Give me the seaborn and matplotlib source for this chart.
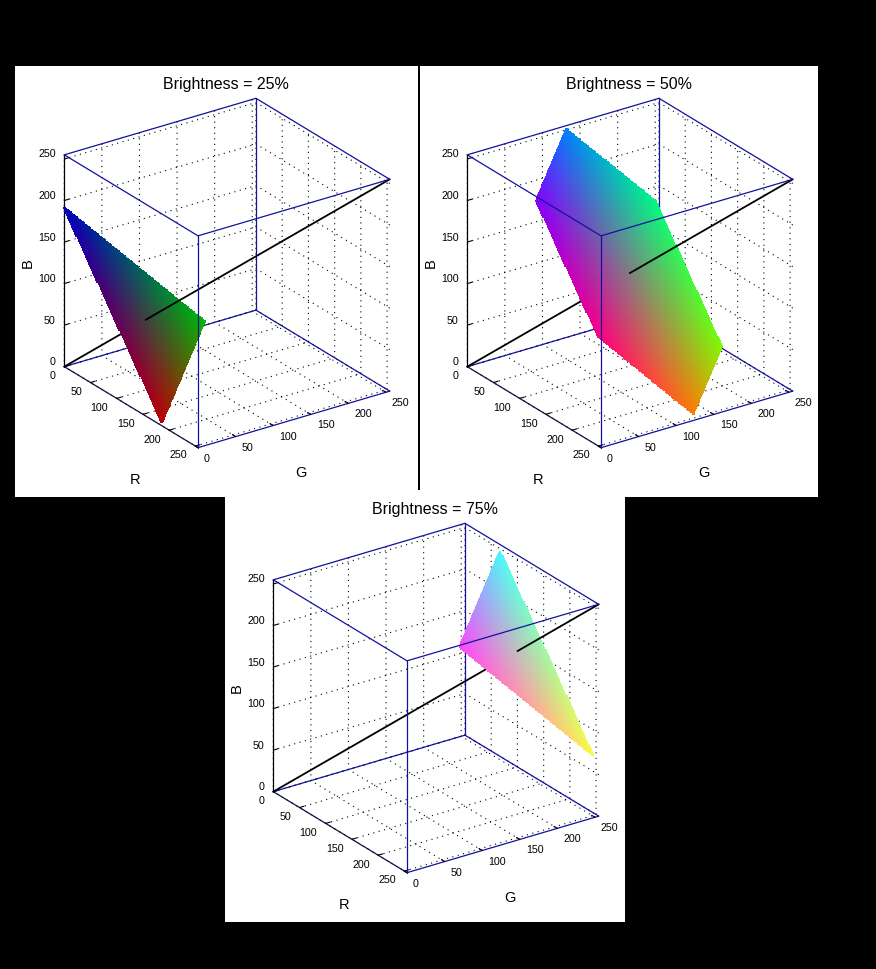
#!/usr/bin/env python3
# Slices through the RGB cube at three brightness levels
import numpy as np
import matplotlib
matplotlib.use("Agg")
import matplotlib.pyplot as plt
from matplotlib.patches import Rectangle
from matplotlib.ticker import NullFormatter
from mpl_toolkits.mplot3d import proj3d
import seaborn as sns

titles = ['Brightness = 25%', 'Brightness = 50%', 'Brightness = 75%']
# R+G+B of each slice, read from where it meets the cube edges
plane_sums = [191, 382, 574]
tick_values = [0, 50, 100, 150, 200, 250]
axis_max = 255
# the slices stop a little short of the cube corners
channel_max = 250
blue_min = 5
grid_step = 2

EDGE = '#12129c'
W, H = 876, 969
AX_SIZE = 393
# cube centre of each panel, in pixels from the top left
centres = [(227, 273), (630, 273), (436, 698)]

sns.set_theme(style='white', font='Liberation Sans', rc={
    'figure.facecolor': 'black',
    'axes.grid': True,
    'axes.labelcolor': 'black',
    'grid.color': 'black',
    'grid.linewidth': 0.8,
    'grid.linestyle': (0, (1, 4)),
    'text.color': 'black',
    'xtick.color': 'black',
    'ytick.color': 'black',
})

fig = plt.figure(figsize=(W / 100, H / 100), dpi=100)

# white backing panels and the divider
for x0, y0, x1, y1, col in [(15, 66, 818, 497, 'white'),
                            (225, 497, 625, 922, 'white'),
                            (418, 66, 420, 490, 'black')]:
    fig.add_artist(Rectangle((x0 / W, 1 - y1 / H), (x1 - x0) / W, (y1 - y0) / H,
                             transform=fig.transFigure, color=col, lw=0, zorder=-1))


def label_at(ax, point, text, dx, dy, **kw):
    # text offset in pixels from a projected 3D point
    px, py, _ = proj3d.proj_transform(*point, ax.get_proj())
    ax.annotate(text, xy=(px, py), xytext=(dx, -dy), textcoords='offset pixels',
                va='center', annotation_clip=False, **kw)


def draw_panel(title, total, centre):
    cx, cy = centre
    left = (cx - 0.5135 * AX_SIZE) / W
    bottom = (H - cy - 0.5135 * AX_SIZE) / H
    ax = fig.add_axes([left, bottom, AX_SIZE / W, AX_SIZE / H], projection='3d',
                      proj_type='ortho', computed_zorder=False)
    ax.set_facecolor('none')
    ax.view_init(elev=25, azim=-34.9)
    ax.set_box_aspect((1, 1, 1))

    # back edges of the box, below the slice
    m = axis_max
    for p, q in [((0, 0, m), (0, m, m)), ((0, m, m), (m, m, m)), ((0, m, 0), (0, m, m)),
                 ((0, 0, 0), (0, m, 0)), ((0, m, 0), (m, m, 0))]:
        ax.plot(*zip(p, q), color=EDGE, lw=0.9, zorder=1)

    # grey diagonal is hidden by the slice up to where it crosses
    mid = total / 3
    ax.plot([0, mid], [0, mid], [0, mid], color='black', lw=1.3, zorder=1.5)

    r, g = np.meshgrid(np.arange(0, channel_max + 1, grid_step),
                       np.arange(0, channel_max + 1, grid_step))
    b = total - r - g
    keep = (b >= blue_min) & (b <= channel_max)
    rgb = np.column_stack([r[keep], g[keep], b[keep]]) / m
    ax.scatter(r[keep], g[keep], b[keep], c=rgb, marker='s', s=4, linewidths=0,
               depthshade=False, zorder=2)

    ax.plot([mid, m], [mid, m], [mid, m], color='black', lw=1.3, zorder=3)
    # front edges, over the slice
    for p, q in [((0, 0, m), (m, 0, m)), ((m, 0, m), (m, m, m)), ((m, 0, 0), (m, 0, m))]:
        ax.plot(*zip(p, q), color=EDGE, lw=0.9, zorder=4)

    ax.set_xlim(0, m, view_margin=0)
    ax.set_ylim(0, m, view_margin=0)
    ax.set_zlim(0, m, view_margin=0)
    ax.set_xticks(tick_values)
    ax.set_yticks(tick_values)
    ax.set_zticks(tick_values)
    ax.zaxis.set_ticks_position('lower')

    for axis, line_col in [(ax.xaxis, '#101040'), (ax.yaxis, EDGE), (ax.zaxis, 'black')]:
        axis.set_pane_color((1, 1, 1, 0))
        axis.pane.set_edgecolor((1, 1, 1, 0))
        axis.line.set_color(line_col)
        axis.line.set_linewidth(0.9)
        # shorter, thinner ticks; no public setter for these in mplot3d
        axis._axinfo['tick'].update(inward_factor=0, outward_factor=0.3)
        axis._axinfo['tick']['linewidth'] = {True: 0.8, False: 0.8}
        # mplot3d cannot shift its tick labels sideways, so they are placed below
        axis.set_major_formatter(NullFormatter())

    for v in tick_values:
        label_at(ax, (v, 0, 0), str(v), -8.5, 9.3, ha='right', fontsize=7.7)
        label_at(ax, (m, v, 0), str(v), 6, 11, ha='left', fontsize=7.7)
        label_at(ax, (0, 0, v), str(v), -8.5, -4.5, ha='right', fontsize=7.7)

    label_at(ax, (m / 2, 0, 0), 'R', 4, 72.5, ha='center', fontsize=10.5)
    label_at(ax, (m, m / 2, 0), 'G', 7, 54, ha='center', fontsize=10.5)
    label_at(ax, (0, 0, m / 2), 'B', -37, 2.5, ha='center', fontsize=10.5, rotation=90)

    ax.set_title(title, fontsize=11.5, x=0.511, y=1.066, pad=0)
    return ax


for title, total, centre in zip(titles, plane_sums, centres):
    draw_panel(title, total, centre)

fig.savefig('out.png', dpi=100, facecolor='black')
